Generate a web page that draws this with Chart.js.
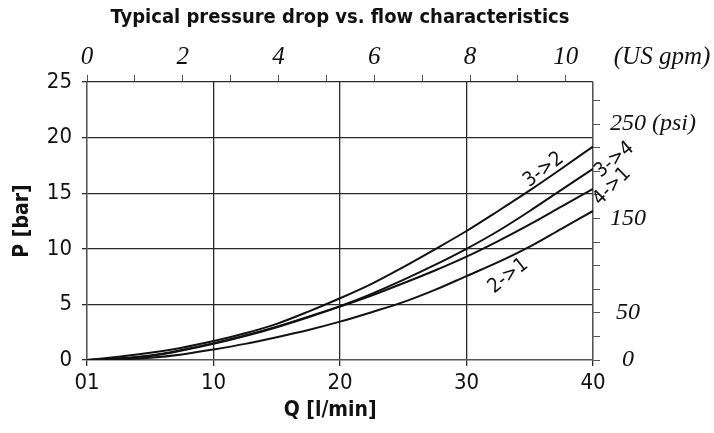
<!DOCTYPE html>
<html>
<head>
<meta charset="utf-8">
<script src="https://cdn.jsdelivr.net/npm/chart.js@4"></script>
<style>
  html, body { margin: 0; padding: 0; background: #fff; }
  #wrap { width: 714px; height: 433px; }
</style>
</head>
<body>
<div id="wrap"><canvas id="chart" width="714" height="433"></canvas></div>
<script>
// flow in l/min, pressure drop in bar
const flow = [0, 2.5, 5, 7.5, 10, 12.5, 15, 17.5, 20, 22.5, 25, 27.5, 30, 32.5, 35, 37.5, 40];
const drop32 = [0, 0.3, 0.65, 1.1, 1.7, 2.4, 3.25, 4.35, 5.55, 6.85, 8.35, 9.95, 11.6, 13.4, 15.25, 17.2, 19.2];
const drop34 = [0, 0.15, 0.4, 0.9, 1.5, 2.2, 3.0, 3.9, 4.85, 5.95, 7.2, 8.55, 10.0, 11.6, 13.4, 15.3, 17.2];
const drop41 = [0, 0.1, 0.35, 0.85, 1.45, 2.15, 2.95, 3.85, 4.8, 5.8, 6.9, 8.05, 9.3, 10.7, 12.2, 13.8, 15.4];
const drop21 = [0, 0.05, 0.2, 0.5, 0.95, 1.45, 2.05, 2.7, 3.45, 4.3, 5.2, 6.3, 7.55, 8.8, 10.2, 11.8, 13.4];
const seriesNames = ['3->2', '3->4', '4->1', '2->1'];
const psiLabels = { 0: '  0', 50: ' 50', 150: '150', 250: '250 (psi)' };

// where the curve names sit (data units) and their slant
const nameSpots = [
  { text: '3->2', q: 36.1, p: 17.1, angle: -37 },
  { text: '3->4', q: 41.7, p: 18.0, angle: -40 },
  { text: '4->1', q: 41.5, p: 15.6, angle: -45 },
  { text: '2->1', q: 33.3, p: 7.55, angle: -38 }
];

const sans = '"Liberation Sans Narrow", "DejaVu Sans Condensed", "Liberation Sans", sans-serif';
const serif = '"Liberation Serif", "DejaVu Serif", serif';
const ink = '#111';
const gridInk = '#2a2a2a';

function toPoints(values) {
  return flow.map((q, i) => ({ x: q, y: values[i] }));
}

const curveNames = {
  id: 'curveNames',
  afterDraw(chart) {
    const ctx = chart.ctx;
    const xs = chart.scales.x, ys = chart.scales.y;
    ctx.save();
    ctx.fillStyle = ink;
    ctx.font = '20px ' + sans;
    ctx.textAlign = 'center';
    ctx.textBaseline = 'middle';
    nameSpots.forEach(s => {
      ctx.save();
      ctx.translate(xs.getPixelForValue(s.q), ys.getPixelForValue(s.p));
      ctx.rotate(s.angle * Math.PI / 180);
      ctx.fillText(s.text, 0, 0);
      ctx.restore();
    });
    ctx.font = 'italic 25px ' + serif;
    ctx.fillText('(US gpm)', chart.chartArea.right + 69, 57);
    ctx.restore();
  }
};

const datasets = [drop32, drop34, drop41, drop21].map((vals, i) => ({
  label: seriesNames[i],
  data: toPoints(vals),
  borderColor: ink,
  borderWidth: 2,
  pointRadius: 0,
  fill: false,
  cubicInterpolationMode: 'monotone',
  xAxisID: 'x',
  yAxisID: 'y'
}));

new Chart(document.getElementById('chart'), {
  type: 'line',
  data: { datasets },
  options: {
    responsive: false,
    animation: false,
    layout: { padding: 0 },
    plugins: { legend: { display: false }, tooltip: { enabled: false } },
    scales: {
      x: {
        type: 'linear', position: 'bottom', min: 0, max: 40,
        afterFit: s => { s.height = 73; },
        ticks: {
          stepSize: 10, padding: 4, color: ink,
          font: { family: sans, size: 22 },
          callback: v => v === 0 ? '01' : String(v)
        },
        grid: { color: gridInk, lineWidth: 1.3, tickLength: 6 },
        border: { color: '#555', width: 1.3 },
        title: {
          display: true, text: 'Q [l/min]   ', color: ink,
          font: { family: sans, size: 21, weight: 'bold' },
          padding: { top: 0, bottom: 10 }
        }
      },
      x2: {
        type: 'linear', position: 'top', min: 0, max: 40 / 3.785,
        afterFit: s => { s.height = 82; },
        ticks: {
          stepSize: 1, padding: 3, color: ink, autoSkip: false, maxRotation: 0,
          includeBounds: false,
          font: { family: serif, size: 25, style: 'italic' },
          callback: v => v % 2 === 0 ? String(v) : ''
        },
        grid: { drawOnChartArea: false, color: '#555', tickLength: 7 },
        border: { display: false },
        title: {
          display: true, text: 'Typical pressure drop vs. flow characteristics', color: ink,
          font: { family: sans, size: 20, weight: 'bold' },
          padding: { top: 6, bottom: 0 }
        }
      },
      y: {
        type: 'linear', position: 'left', min: 0, max: 25,
        afterFit: s => { s.width = 87; },
        ticks: {
          stepSize: 5, padding: 10, color: ink,
          font: { family: sans, size: 22 }
        },
        grid: { color: gridInk, lineWidth: 1.3, tickLength: 5 },
        border: { color: '#555', width: 1.3 },
        title: {
          display: true, text: 'P [bar]', color: ink,
          font: { family: sans, size: 21, weight: 'bold' },
          padding: { top: 10, bottom: 0 }
        }
      },
      y2: {
        type: 'linear', position: 'right', min: 0, max: 294.5,
        afterFit: s => { s.width = 121; },
        ticks: {
          stepSize: 25, padding: 10, color: ink, autoSkip: false,
          includeBounds: false,
          font: { family: serif, size: 24, style: 'italic' },
          callback: v => psiLabels[v] || ''
        },
        grid: { drawOnChartArea: false, color: '#555', tickLength: 7 },
        border: { color: '#555', width: 1.3 }
      }
    }
  },
  plugins: [curveNames]
});
</script>
</body>
</html>
